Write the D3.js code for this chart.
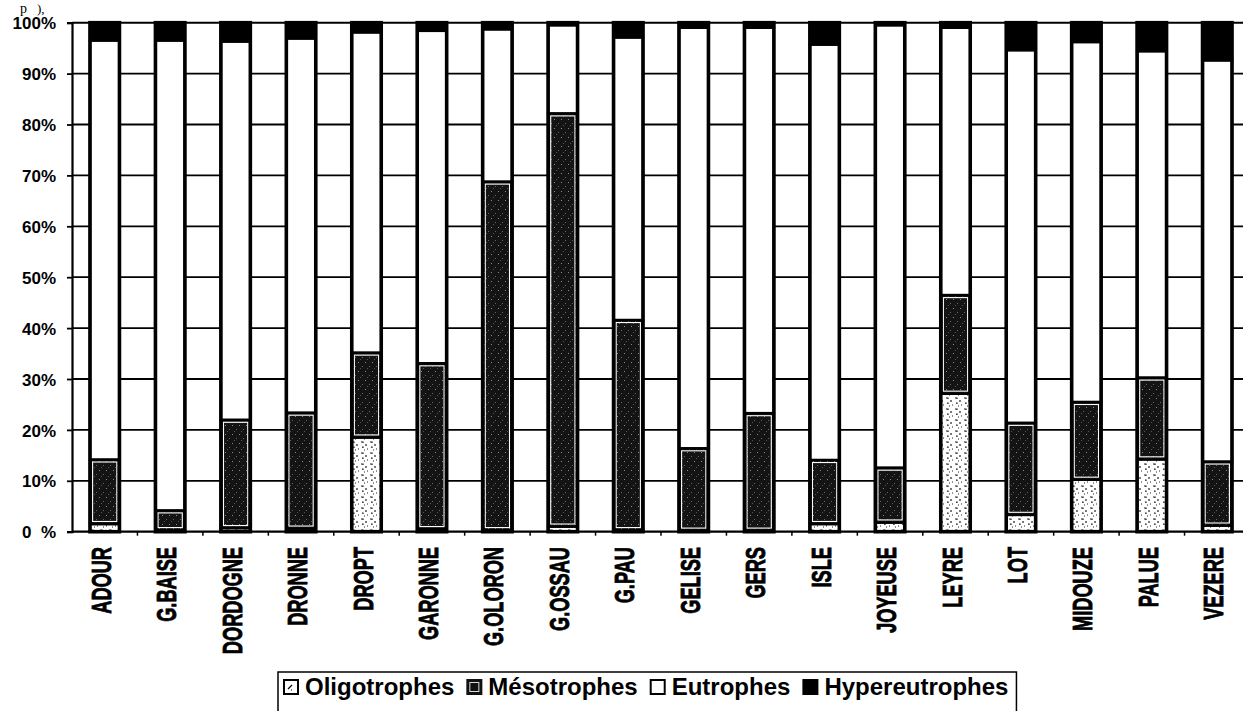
<!DOCTYPE html>
<html>
<head>
<meta charset="utf-8">
<script src="https://cdn.jsdelivr.net/npm/d3@7"></script>
<style>
  html, body { margin: 0; padding: 0; background: #fff; }
  svg { display: block; }
  text { font-family: "Liberation Sans", Arial, sans-serif; font-weight: bold; fill: #000; }
  text.fragment { font-family: "Liberation Serif", serif; font-weight: normal; }
</style>
</head>
<body>
<svg id="chart" width="1243" height="711"></svg>
<script>
// Trophic status share per river (percent of stations)
const categories = ["ADOUR","G.BAISE","DORDOGNE","DRONNE","DROPT","GARONNE","G.OLORON","G.OSSAU","G.PAU","GELISE","GERS","ISLE","JOYEUSE","LEYRE","LOT","MIDOUZE","PALUE","VEZERE"];
const oligotrophes   = [1.5, 0.3, 0.7, 0.6, 18.5, 0.5, 0.3, 1.0, 0.3, 0.2, 0.2, 1.5, 1.8, 27.1, 3.3, 10.2, 14.2, 1.2];
const mesotrophes    = [12.7, 3.9, 21.3, 22.8, 16.7, 32.6, 68.5, 81.2, 41.3, 16.2, 23.1, 12.6, 10.8, 19.4, 18.1, 15.3, 16.1, 12.6];
const eutrophes      = [82.3, 92.3, 74.3, 73.5, 62.9, 65.3, 29.9, 17.3, 55.5, 82.6, 75.7, 81.6, 86.9, 52.5, 73.2, 70.7, 64.1, 78.8];
const hypereutrophes = [3.5, 3.5, 3.7, 3.1, 1.9, 1.6, 1.3, 0.5, 2.9, 1.0, 1.0, 4.3, 0.5, 1.0, 5.4, 3.8, 5.6, 7.4];
const seriesNames = ["Oligotrophes", "Mésotrophes", "Eutrophes", "Hypereutrophes"];
const yTickValues = [0, 10, 20, 30, 40, 50, 60, 70, 80, 90, 100];
const yTickLabels = ["0\u2007%", "10%", "20%", "30%", "40%", "50%", "60%", "70%", "80%", "90%", "100%"];

const svg = d3.select("#chart");
const plot = { left: 72, right: 1250, top: 22.7, bottom: 531.7 };

const x = d3.scaleBand().domain(categories)
  .range([plot.left, plot.right]).paddingInner(0.55).paddingOuter(0.275);
const y = d3.scaleLinear().domain([0, 100]).range([plot.bottom, plot.top]);

// fill patterns
const defs = svg.append("defs");
const meso = defs.append("pattern").attr("id", "pMeso").attr("patternUnits", "userSpaceOnUse")
  .attr("width", 7).attr("height", 9);
meso.append("rect").attr("width", 7).attr("height", 9).attr("fill", "#141414");
meso.append("rect").attr("x", 1).attr("y", 2).attr("width", 1).attr("height", 1).attr("fill", "#8a8a8a");
meso.append("rect").attr("x", 5).attr("y", 6).attr("width", 1).attr("height", 1).attr("fill", "#666");
meso.append("rect").attr("x", 3).attr("y", 8).attr("width", 1).attr("height", 1).attr("fill", "#555");

const oligo = defs.append("pattern").attr("id", "pOligo").attr("patternUnits", "userSpaceOnUse")
  .attr("width", 9).attr("height", 11);
oligo.append("rect").attr("width", 9).attr("height", 11).attr("fill", "#fff");
oligo.append("path").attr("d", "M1 2h2v1M6 4v2M2 7h1v1M7 9h1M4 10h1")
  .attr("stroke", "#222").attr("stroke-width", 1.2).attr("fill", "none");

const fills = ["url(#pOligo)", "url(#pMeso)", "#fff", "#000"];

// horizontal gridlines and frame
svg.append("g").selectAll("line").data(yTickValues.filter(v => v > 0 && v < 100)).join("line")
  .attr("x1", plot.left).attr("x2", plot.right)
  .attr("y1", d => y(d)).attr("y2", d => y(d))
  .attr("stroke", "#000").attr("stroke-width", 1.8);
svg.append("line").attr("x1", plot.left).attr("x2", plot.right)
  .attr("y1", y(100)).attr("y2", y(100)).attr("stroke", "#000").attr("stroke-width", 2);

// stacked bars
const rows = categories.map((c, i) => ({
  cat: c, Oligotrophes: oligotrophes[i], "Mésotrophes": mesotrophes[i],
  Eutrophes: eutrophes[i], Hypereutrophes: hypereutrophes[i]
}));
const stacked = d3.stack().keys(seriesNames)(rows);

const bw = x.bandwidth();
const barG = svg.append("g");
stacked.forEach((layer, si) => {
  const g = barG.append("g");
  g.selectAll("rect.seg").data(layer).join("rect").attr("class", "seg")
    .attr("x", d => x(d.data.cat)).attr("width", bw)
    .attr("y", d => y(d[1])).attr("height", d => Math.max(0, y(d[0]) - y(d[1])))
    .attr("fill", fills[si]).attr("stroke", "#000").attr("stroke-width", 2.4);
  if (si === 1) {
    // thin light rim inside the mesotrophic block
    g.selectAll("rect.rim").data(layer.filter(d => y(d[0]) - y(d[1]) > 6)).join("rect").attr("class", "rim")
      .attr("x", d => x(d.data.cat) + 2.6).attr("width", bw - 5.2)
      .attr("y", d => y(d[1]) + 2.6).attr("height", d => y(d[0]) - y(d[1]) - 5.2)
      .attr("fill", "none").attr("stroke", "#fff").attr("stroke-width", 1.1);
  }
});
// heavy outline of each column
barG.append("g").selectAll("rect").data(rows).join("rect")
  .attr("x", d => x(d.cat)).attr("width", bw)
  .attr("y", y(100)).attr("height", y(0) - y(100))
  .attr("fill", "none").attr("stroke", "#000").attr("stroke-width", 3.6);

// y axis
const yAxis = d3.axisLeft(y).tickValues(yTickValues)
  .tickFormat((d, i) => yTickLabels[i]).tickSize(5).tickPadding(11);
const yG = svg.append("g").attr("transform", `translate(${plot.left},0)`).call(yAxis);
yG.select(".domain").attr("stroke", "#000").attr("stroke-width", 2.2);
yG.selectAll(".tick line").attr("stroke", "#000").attr("stroke-width", 1.8);
yG.selectAll(".tick text").attr("font-size", 17).attr("font-family", "'Liberation Sans', Arial, sans-serif")
  .attr("font-weight", "bold").attr("fill", "#000").attr("dy", "0.36em");

// x axis (band boundaries ticks)
svg.append("line").attr("x1", plot.left).attr("x2", plot.right)
  .attr("y1", y(0)).attr("y2", y(0)).attr("stroke", "#000").attr("stroke-width", 2.2);
const step = x.step();
svg.append("g").selectAll("line").data(categories).join("line")
  .attr("x1", d => x(d) - x.paddingOuter() * step + step)
  .attr("x2", d => x(d) - x.paddingOuter() * step + step)
  .attr("y1", y(0)).attr("y2", y(0) + 4).attr("stroke", "#000").attr("stroke-width", 1.5);

// category labels, vertical and condensed
svg.append("g").selectAll("text").data(categories).join("text")
  .attr("transform", d => `translate(${x(d) + bw / 2 + 6},547) rotate(-90) scale(0.65,1)`)
  .attr("text-anchor", "end").attr("font-size", 28)
  .attr("stroke", "#000").attr("stroke-width", 0.9).text(d => d);

// legend
const leg = svg.append("g");
const legBox = leg.append("rect").attr("y", 672).attr("height", 46)
  .attr("fill", "#fff").attr("stroke", "#000").attr("stroke-width", 1.5);
let lx = 283;
const mk = 16, baseY = 695;
seriesNames.forEach((name, i) => {
  const m = leg.append("g").attr("transform", `translate(${lx},${baseY - 16})`);
  if (i === 0) {
    m.append("rect").attr("x", 1).attr("y", 1).attr("width", mk - 2).attr("height", mk - 2)
      .attr("fill", "#fff").attr("stroke", "#000").attr("stroke-width", 2);
    m.append("path").attr("d", "M5 10l4-4M8 11h1").attr("stroke", "#000").attr("stroke-width", 1.2);
  } else if (i === 1) {
    m.append("rect").attr("width", mk).attr("height", mk).attr("fill", "#111");
    m.append("rect").attr("x", 3.5).attr("y", 3.5).attr("width", mk - 7).attr("height", mk - 7)
      .attr("fill", "none").attr("stroke", "#ddd").attr("stroke-width", 1);
  } else if (i === 2) {
    m.append("rect").attr("x", 1).attr("y", 1).attr("width", mk - 2).attr("height", mk - 2)
      .attr("fill", "#fff").attr("stroke", "#000").attr("stroke-width", 2);
  } else {
    m.append("rect").attr("width", mk).attr("height", mk).attr("fill", "#000");
  }
  const t = leg.append("text").attr("x", lx + mk + 6).attr("y", baseY)
    .attr("font-size", 24).text(name);
  lx = lx + mk + 6 + t.node().getComputedTextLength() + 12;
});
legBox.attr("x", 278).attr("width", lx - 278 - 4);

// fragment of the preceding line of text
svg.append("text").attr("class", "fragment").attr("x", 20).attr("y", 13)
  .attr("font-size", 14).text("p");
svg.append("text").attr("class", "fragment").attr("x", 37).attr("y", 13)
  .attr("font-size", 13).text("),");
</script>
</body>
</html>
